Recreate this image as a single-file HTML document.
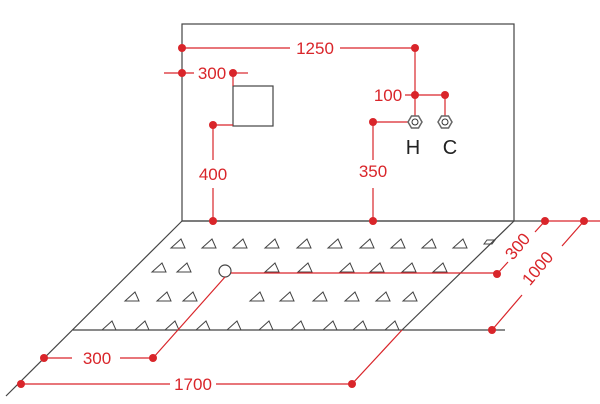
<!DOCTYPE html>
<html><head><style>html,body{margin:0;padding:0;background:#fff}svg{display:block}</style></head><body>
<svg width="600" height="404" viewBox="0 0 600 404" xmlns="http://www.w3.org/2000/svg" font-family="Liberation Sans, sans-serif">
<g stroke="#444" stroke-width="1.2" fill="none">
<rect x="182" y="24" width="332" height="197"/>
<line x1="182" y1="221" x2="545" y2="221"/>
<line x1="182" y1="221" x2="6" y2="396"/>
<line x1="514" y1="221" x2="402" y2="330"/>
<line x1="73" y1="330" x2="505" y2="330"/>
<rect x="233" y="86" width="40" height="40"/>
<circle cx="225" cy="271" r="6"/>
</g>
<g stroke="#444" stroke-width="1" fill="none">
<polygon points="171,248 185,248 181,239"/><polygon points="202,248 216,248 212,239"/><polygon points="233,248 247,248 243,239"/><polygon points="265,248 279,248 275,239"/><polygon points="297,248 311,248 307,239"/><polygon points="328,248 342,248 338,239"/><polygon points="360,248 374,248 370,239"/><polygon points="391,248 405,248 401,239"/><polygon points="422,248 436,248 432,239"/><polygon points="453,248 467,248 463,239"/>
<polygon points="152,272 166,272 162,263"/><polygon points="177,272 191,272 187,263"/><polygon points="265,272 279,272 275,263"/><polygon points="298,272 312,272 308,263"/><polygon points="340,272 354,272 350,263"/><polygon points="370,272 384,272 380,263"/><polygon points="402,272 416,272 412,263"/><polygon points="433,272 447,272 443,263"/>
<polygon points="125,301 139,301 135,292"/><polygon points="157,301 171,301 167,292"/><polygon points="183,301 197,301 193,292"/><polygon points="250,301 264,301 260,292"/><polygon points="280,301 294,301 290,292"/><polygon points="313,301 327,301 323,292"/><polygon points="345,301 359,301 355,292"/><polygon points="376,301 390,301 386,292"/><polygon points="403,301 417,301 413,292"/>
<polygon points="102,330 116,330 112,321"/><polygon points="135,330 149,330 145,321"/><polygon points="165,330 179,330 175,321"/><polygon points="196,330 210,330 206,321"/><polygon points="227,330 241,330 237,321"/><polygon points="259,330 273,330 269,321"/><polygon points="291,330 305,330 301,321"/><polygon points="323,330 337,330 333,321"/><polygon points="353,330 367,330 363,321"/><polygon points="385,330 399,330 395,321"/>
<polygon points="484,244 492,244 495,240 487,240"/>
</g>
<g stroke="#d9252a" stroke-width="1.2" fill="none">
<line x1="182" y1="48" x2="290" y2="48"/><line x1="340" y1="48" x2="415" y2="48"/>
<line x1="415" y1="48" x2="415" y2="122"/>
<line x1="164" y1="73" x2="194" y2="73"/><line x1="233" y1="73" x2="248" y2="73"/><line x1="233" y1="73" x2="233" y2="86"/>
<line x1="405" y1="95" x2="445" y2="95"/><line x1="445" y1="95" x2="445" y2="122"/>
<line x1="213" y1="125" x2="233" y2="125"/><line x1="213" y1="125" x2="213" y2="160"/><line x1="213" y1="188" x2="213" y2="221"/>
<line x1="373" y1="122" x2="415" y2="122"/><line x1="373" y1="122" x2="373" y2="160"/><line x1="373" y1="188" x2="373" y2="221"/>
<line x1="545" y1="221" x2="600" y2="221"/>
<line x1="545" y1="221" x2="535" y2="232"/><line x1="508" y1="262" x2="497" y2="274"/>
<line x1="231" y1="273" x2="497" y2="273"/>
<line x1="584" y1="221" x2="562" y2="246"/><line x1="522" y1="295" x2="492" y2="330"/>
<line x1="402" y1="330" x2="352" y2="384"/>
<line x1="225" y1="277" x2="153" y2="358"/>
<line x1="44" y1="358" x2="72" y2="358"/><line x1="120" y1="358" x2="153" y2="358"/>
<line x1="21" y1="384" x2="170" y2="384"/><line x1="216" y1="384" x2="352" y2="384"/>
</g>
<g fill="#d9252a">
<circle cx="182" cy="48" r="4"/><circle cx="415" cy="48" r="4"/><circle cx="182" cy="73" r="4"/><circle cx="233" cy="73" r="4"/>
<circle cx="415" cy="95" r="4"/><circle cx="445" cy="95" r="4"/><circle cx="213" cy="125" r="4"/><circle cx="373" cy="122" r="4"/>
<circle cx="213" cy="221" r="4"/><circle cx="373" cy="221" r="4"/><circle cx="545" cy="221" r="4"/><circle cx="584" cy="221" r="4"/>
<circle cx="497" cy="274" r="4"/><circle cx="492" cy="330" r="4"/><circle cx="153" cy="358" r="4"/><circle cx="44" cy="358" r="4"/>
<circle cx="21" cy="384" r="4"/><circle cx="352" cy="384" r="4"/>
</g>
<g fill="#fff" stroke="#666" stroke-width="1.5">
<polygon points="408,122 411.5,116 418.5,116 422,122 418.5,128 411.5,128"/>
<polygon points="438,122 441.5,116 448.5,116 452,122 448.5,128 441.5,128"/>
</g>
<g fill="#fff" stroke="#333" stroke-width="1"><circle cx="415" cy="122" r="3"/><circle cx="445" cy="122" r="3"/></g>
<g fill="#d9252a" font-size="17" text-anchor="middle">
<text x="315" y="54">1250</text>
<text x="212" y="79">300</text>
<text x="388" y="101">100</text>
<text x="213" y="180">400</text>
<text x="373" y="177">350</text>
<text x="97" y="364">300</text>
<text x="193" y="390">1700</text>
<text x="0" y="0" transform="translate(522,250) rotate(-50)">300</text>
<text x="0" y="0" transform="translate(542,272) rotate(-50)">1000</text>
</g>
<g fill="#222" font-size="20" text-anchor="middle">
<text x="413" y="154">H</text><text x="450" y="154">C</text>
</g>
</svg>
</body></html>
